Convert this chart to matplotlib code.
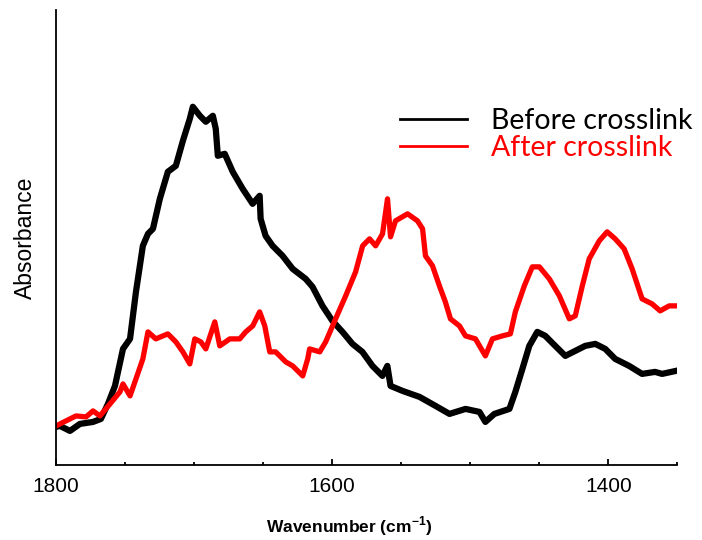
import matplotlib.pyplot as plt
from matplotlib.lines import Line2D

plt.rcParams['mathtext.fontset'] = 'custom'
plt.rcParams['mathtext.bf'] = 'Liberation Sans:bold'
plt.rcParams['mathtext.rm'] = 'Liberation Sans'

# wavenumber (cm-1) and absorbance (a.u.)
before_wn = [1800.0, 1797.1, 1789.9, 1782.7, 1773.2, 1767.5, 1762.4, 1757.3, 1751.5, 1746.4,
             1742.1, 1737.1, 1733.4, 1729.8, 1724.8, 1719.0, 1713.2, 1708.1, 1703.1, 1700.9,
             1695.8, 1691.5, 1686.4, 1684.3, 1682.8, 1677.8, 1672.0, 1664.8, 1657.6, 1652.5,
             1651.8, 1648.2, 1643.1, 1635.9, 1628.6, 1619.2, 1614.2, 1607.0, 1599.8, 1592.5,
             1585.3, 1578.1, 1570.8, 1563.6, 1560.0, 1557.7, 1549.0, 1536.7, 1525.1, 1515.0,
             1503.4, 1493.3, 1489.0, 1482.5, 1471.6, 1467.3, 1462.2, 1457.2, 1451.4, 1445.6,
             1438.4, 1431.1, 1423.9, 1416.7, 1409.4, 1402.2, 1395.0, 1384.9, 1375.5, 1366.1,
             1361.0, 1351.0]
before_abs = [0.38, 0.39, 0.34, 0.41, 0.43, 0.46, 0.61, 0.79, 1.16, 1.26,
              1.73, 2.19, 2.31, 2.36, 2.66, 2.93, 2.99, 3.24, 3.46, 3.58,
              3.49, 3.43, 3.49, 3.36, 3.09, 3.11, 2.93, 2.76, 2.61, 2.69,
              2.46, 2.29, 2.19, 2.09, 1.96, 1.86, 1.78, 1.59, 1.44, 1.33,
              1.21, 1.13, 0.99, 0.89, 0.99, 0.79, 0.74, 0.68, 0.59, 0.51,
              0.56, 0.53, 0.43, 0.51, 0.56, 0.73, 0.96, 1.19, 1.33, 1.29,
              1.19, 1.09, 1.14, 1.19, 1.21, 1.16, 1.06, 0.99, 0.91, 0.93,
              0.91, 0.94]

after_wn = [1800.0, 1789.9, 1785.5, 1778.3, 1773.2, 1768.2, 1760.9, 1753.7, 1751.5, 1746.4,
            1742.1, 1737.1, 1733.4, 1727.7, 1719.0, 1713.2, 1708.1, 1703.1, 1699.5, 1695.1,
            1691.5, 1685.0, 1681.4, 1674.1, 1666.9, 1662.6, 1657.5, 1652.5, 1648.8, 1645.2,
            1640.9, 1633.6, 1628.6, 1621.3, 1617.7, 1616.3, 1609.0, 1604.7, 1597.5, 1590.2,
            1583.0, 1577.9, 1572.9, 1568.5, 1563.5, 1559.9, 1557.7, 1554.1, 1545.4, 1538.2,
            1534.5, 1532.4, 1527.3, 1522.3, 1518.0, 1514.3, 1507.8, 1503.4, 1496.2, 1489.0,
            1483.9, 1476.7, 1470.9, 1467.3, 1460.8, 1455.0, 1449.9, 1442.7, 1435.4, 1428.2,
            1423.9, 1418.8, 1413.8, 1406.5, 1400.8, 1395.0, 1388.5, 1382.7, 1375.5, 1368.3,
            1362.4, 1355.9, 1351.0]
after_abs = [0.39, 0.46, 0.49, 0.48, 0.54, 0.49, 0.61, 0.73, 0.81, 0.69,
             0.86, 1.06, 1.33, 1.26, 1.31, 1.23, 1.13, 1.01, 1.26, 1.23,
             1.16, 1.43, 1.19, 1.26, 1.26, 1.33, 1.39, 1.53, 1.39, 1.13,
             1.13, 1.03, 0.99, 0.89, 1.06, 1.16, 1.13, 1.23, 1.46, 1.69,
             1.93, 2.19, 2.26, 2.19, 2.31, 2.66, 2.28, 2.44, 2.51, 2.44,
             2.36, 2.09, 1.99, 1.79, 1.63, 1.46, 1.39, 1.29, 1.26, 1.09,
             1.26, 1.29, 1.31, 1.53, 1.79, 1.98, 1.98, 1.86, 1.69, 1.46,
             1.49, 1.79, 2.06, 2.24, 2.33, 2.26, 2.16, 1.96, 1.66, 1.61,
             1.54, 1.59, 1.59]

series_labels = ['Before crosslink', 'After crosslink']
series_colors = ['black', 'red']
x_ticks = [1800, 1600, 1400]

fig = plt.figure(figsize=(7.02, 5.4), dpi=100)
ax = fig.add_axes([0.0798, 0.139, 0.885, 0.843])

ax.plot(before_wn, before_abs, color='black', lw=4.5)
ax.plot(after_wn, after_abs, color='red', lw=3.8)

ax.set_xlim(1800, 1350)
ax.set_ylim(0, 4.55)
ax.set_xticks(x_ticks)
ax.set_xticks(range(1350, 1800, 50), minor=True)
ax.set_yticks([])
ax.tick_params(axis='x', which='major', length=4.5, width=1.3, direction='in', labelsize=15, pad=8.5)
ax.tick_params(axis='x', which='minor', length=2.2, width=1.3, direction='in')
for lab in ax.get_xticklabels():
    lab.set_fontfamily('Liberation Sans')

for side in ['top', 'right']:
    ax.spines[side].set_visible(False)
for side in ['left', 'bottom']:
    ax.spines[side].set_linewidth(1.3)

ax.set_xlabel(r'Wavenumber (cm$^{\mathbf{-1}}$)', fontsize=12.5, fontweight='bold',
              family='Liberation Sans')
ax.xaxis.set_label_coords(0.472, -0.108)
ax.set_ylabel('Absorbance', fontsize=16.5, family='Liberation Sans')
ax.yaxis.set_label_coords(-0.031, 0.5)

handles = [Line2D([], [], color=c, lw=2) for c in series_colors]
leg = fig.legend(handles, series_labels, loc='upper left', bbox_to_anchor=(400 / 702, 1 - 108 / 540),
                 frameon=False, prop={'family': 'Lato', 'size': 20.5}, borderpad=0, borderaxespad=0,
                 handlelength=2.35, handletextpad=0.85, labelspacing=0.05, labelcolor=series_colors)

fig.savefig('out.png', dpi=100)
